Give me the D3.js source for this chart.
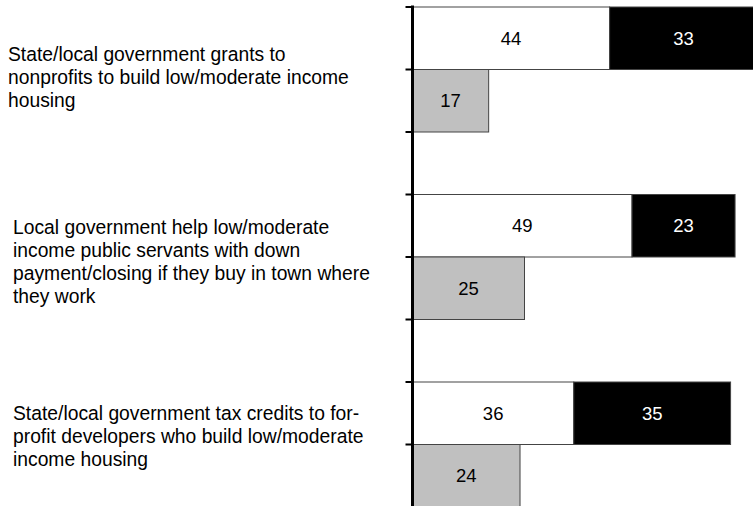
<!DOCTYPE html>
<html>
<head>
<meta charset="utf-8">
<script src="https://cdn.jsdelivr.net/npm/d3@7"></script>
<style>
  html, body { margin: 0; padding: 0; background: #fff; }
  svg { display: block; font-family: Arial, "Liberation Sans", sans-serif; }
</style>
</head>
<body>
<svg id="chart" width="753" height="506"></svg>
<script>
// Policy proposals (one per row group), wrapped into display lines
const categories = [
  "State/local government grants to nonprofits to build low/moderate income housing",
  "Local government help low/moderate income public servants with down payment/closing if they buy in town where they work",
  "State/local government tax credits to for-profit developers who build low/moderate income housing"
];
const categoryLines = [
  ["State/local government grants to", "nonprofits to build low/moderate income", "housing"],
  ["Local government help low/moderate", "income public servants with down", "payment/closing if they buy in town where", "they work"],
  ["State/local government tax credits to for-", "profit developers who build low/moderate", "income housing"]
];

// Percentages per proposal
const whiteValues = [44, 49, 36];
const blackValues = [33, 23, 35];
const grayValues  = [17, 25, 24];

// Layout
const W = 753, H = 506;
const axisX = 412.5;
const pxPerUnit = 4.48;
const labelPlacement = [[8, 54], [13, 39], [13, 37.5]]; // [x, first baseline below band top]

const svg = d3.select("#chart");

const y = d3.scaleBand()
  .domain(categories)
  .range([7, 507])
  .paddingInner(1 / 3)
  .paddingOuter(0);

const ySub = d3.scaleBand()
  .domain(["stacked", "gray"])
  .range([0, y.bandwidth()])
  .padding(0);

const x = d3.scaleLinear()
  .domain([0, 100])
  .range([axisX, axisX + 100 * pxPerUnit]);

// Build segments from the value arrays
const segments = [];
categories.forEach((c, i) => {
  segments.push({ cat: c, row: "stacked", x0: 0, x1: whiteValues[i], v: whiteValues[i], fill: "#ffffff", text: "#000" });
  segments.push({ cat: c, row: "stacked", x0: whiteValues[i], x1: whiteValues[i] + blackValues[i], v: blackValues[i], fill: "#000000", text: "#fff" });
  segments.push({ cat: c, row: "gray", x0: 0, x1: grayValues[i], v: grayValues[i], fill: "#c0c0c0", text: "#000" });
});

const g = svg.append("g");

g.selectAll("rect.bar")
  .data(segments)
  .join("rect")
  .attr("class", "bar")
  .attr("x", d => x(d.x0))
  .attr("y", d => y(d.cat) + ySub(d.row))
  .attr("width", d => x(d.x1) - x(d.x0))
  .attr("height", ySub.bandwidth())
  .attr("fill", d => d.fill)
  .attr("stroke", "#444")
  .attr("stroke-width", 1);

g.selectAll("text.val")
  .data(segments)
  .join("text")
  .attr("class", "val")
  .attr("x", d => (x(d.x0) + x(d.x1)) / 2)
  .attr("y", d => y(d.cat) + ySub(d.row) + ySub.bandwidth() / 2 + 6.5)
  .attr("text-anchor", "middle")
  .attr("font-size", 18.5)
  .attr("fill", d => d.text)
  .text(d => d.v);

// Category axis: vertical line with tick marks at every half band / gap edge
const tickYs = [];
categories.forEach(c => {
  tickYs.push(y(c), y(c) + y.bandwidth() / 2, y(c) + y.bandwidth());
});

svg.append("line")
  .attr("x1", axisX).attr("x2", axisX)
  .attr("y1", 5.5).attr("y2", H + 2)
  .attr("stroke", "#000")
  .attr("stroke-width", 3);

svg.selectAll("line.tick")
  .data(tickYs)
  .join("line")
  .attr("class", "tick")
  .attr("x1", axisX - 7).attr("x2", axisX)
  .attr("y1", d => d).attr("y2", d => d)
  .attr("stroke", "#000")
  .attr("stroke-width", 2);

// Category labels
const labels = svg.selectAll("text.cat")
  .data(categories)
  .join("text")
  .attr("class", "cat")
  .attr("font-size", 19.3)
  .attr("fill", "#000");

labels.each(function (c, i) {
  const [lx, ly] = labelPlacement[i];
  d3.select(this).selectAll("tspan")
    .data(categoryLines[i])
    .join("tspan")
    .attr("x", lx)
    .attr("y", (d, j) => y(c) + ly + j * 23)
    .text(d => d);
});
</script>
</body>
</html>
